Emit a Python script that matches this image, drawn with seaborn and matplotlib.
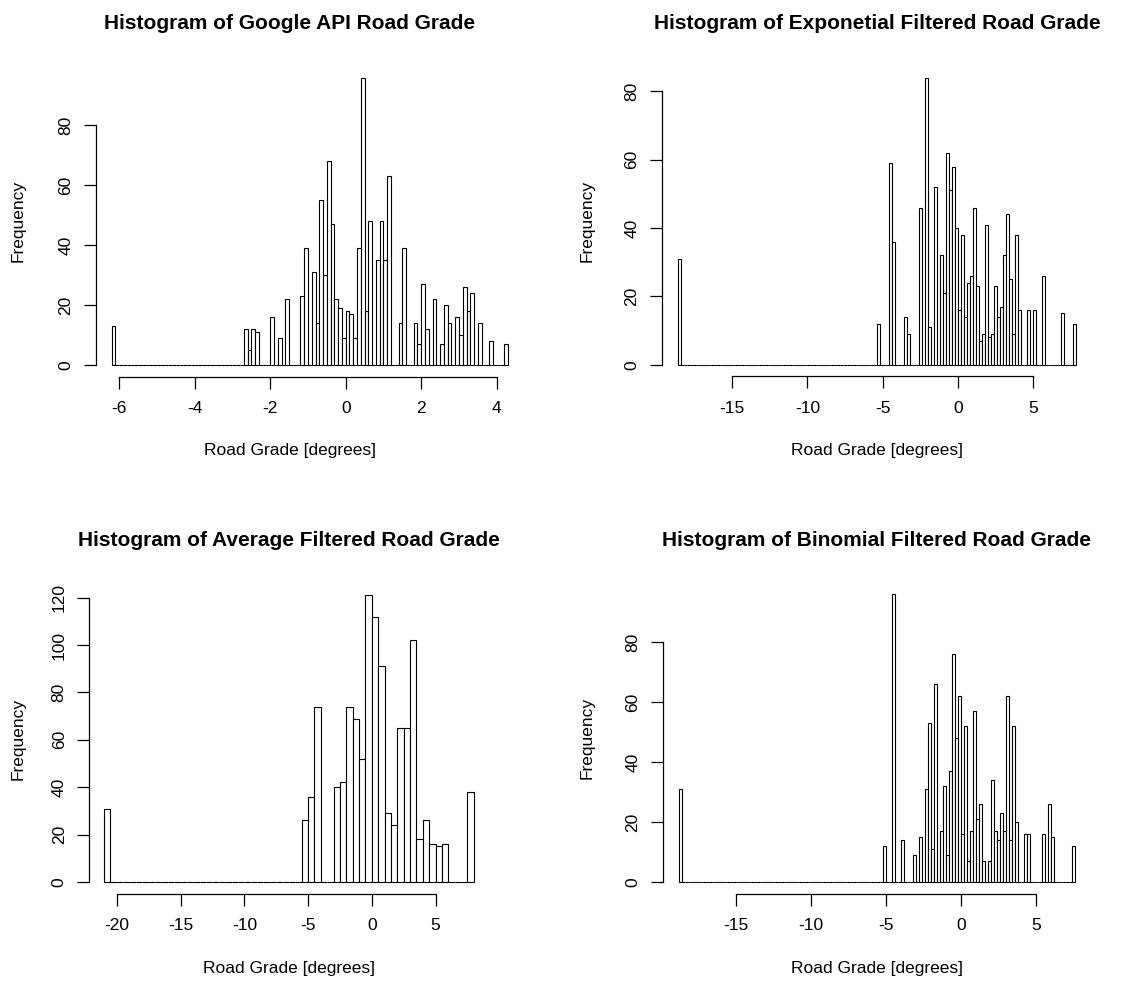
import pandas as pd
import matplotlib
matplotlib.use("Agg")
import matplotlib.pyplot as plt
import seaborn as sns

# bin centres and counts (empty bins left out)
google_grade = [-6.15, -2.65, -2.55, -2.45, -2.35, -1.95, -1.75, -1.55, -1.15, -1.05,
                -0.85, -0.75, -0.65, -0.55, -0.45, -0.35, -0.25, -0.15, -0.05, 0.05,
                0.15, 0.25, 0.35, 0.45, 0.55, 0.65, 0.85, 0.95, 1.05, 1.15,
                1.45, 1.55, 1.85, 1.95, 2.05, 2.15, 2.35, 2.55, 2.65, 2.75,
                2.95, 3.05, 3.15, 3.25, 3.35, 3.55, 3.85, 4.25]
google_count = [13, 12, 5, 12, 11, 16, 9, 22, 23, 39,
                31, 14, 55, 30, 68, 47, 22, 19, 9, 18,
                17, 9, 39, 96, 18, 48, 35, 48, 35, 63,
                14, 39, 14, 7, 27, 12, 22, 7, 20, 14,
                16, 10, 26, 18, 24, 14, 8, 7]
google_breaks = (-6.2, 4.3, 0.1)

expo_grade = [-18.5, -5.3, -4.5, -4.3, -3.5, -3.3, -2.5, -2.1, -1.9, -1.5,
              -1.1, -0.9, -0.7, -0.5, -0.3, -0.1, 0.1, 0.3, 0.5, 0.7,
              0.9, 1.1, 1.3, 1.5, 1.7, 1.9, 2.1, 2.3, 2.5, 2.7,
              2.9, 3.1, 3.3, 3.5, 3.7, 3.9, 4.1, 4.7, 5.1, 5.7,
              6.9, 7.7]
expo_count = [31, 12, 59, 36, 14, 9, 46, 84, 11, 52,
              32, 21, 62, 51, 58, 40, 16, 38, 14, 24,
              26, 46, 23, 7, 9, 41, 8, 9, 23, 14,
              17, 32, 44, 25, 9, 38, 16, 16, 16, 26,
              15, 12]
expo_breaks = (-18.6, 7.8, 0.2)

avg_grade = [-20.75, -5.25, -4.75, -4.25, -2.75, -2.25, -1.75, -1.25, -0.75, -0.25,
             0.25, 0.75, 1.25, 1.75, 2.25, 2.75, 3.25, 3.75, 4.25, 4.75,
             5.25, 5.75, 7.75]
avg_count = [31, 26, 36, 74, 40, 42, 74, 69, 52, 121,
             112, 91, 29, 24, 65, 65, 102, 18, 26, 16,
             15, 16, 38]
avg_breaks = (-21.0, 8.0, 0.5)

binom_grade = [-18.7, -5.1, -4.5, -3.9, -3.1, -2.7, -2.3, -2.1, -1.9, -1.7,
               -1.3, -1.1, -0.9, -0.7, -0.5, -0.3, -0.1, 0.1, 0.3, 0.5,
               0.7, 0.9, 1.1, 1.3, 1.5, 1.9, 2.1, 2.3, 2.5, 2.7,
               2.9, 3.1, 3.3, 3.5, 3.7, 4.3, 4.5, 5.5, 5.9, 6.1,
               7.5]
binom_count = [31, 12, 96, 14, 9, 15, 31, 53, 11, 66,
               17, 32, 9, 37, 76, 48, 62, 16, 52, 7,
               17, 57, 21, 26, 7, 7, 34, 17, 14, 23,
               17, 62, 14, 52, 20, 16, 16, 16, 26, 15,
               12]
binom_breaks = (-18.8, 7.6, 0.2)

titles = ["Histogram of Google API Road Grade",
          "Histogram of Exponetial Filtered Road Grade",
          "Histogram of Average Filtered Road Grade",
          "Histogram of Binomial Filtered Road Grade"]

W, H = 1121, 985

sns.set_style("ticks")
plt.rcParams["font.family"] = ["Liberation Sans", "DejaVu Sans"]
plt.rcParams["text.color"] = "black"
plt.rcParams["axes.labelcolor"] = "black"

fig = plt.figure(figsize=(W / 100, H / 100), dpi=100)


def px_axes(x0, x1, y0, y1):
    return fig.add_axes([x0 / W, 1 - y1 / H, (x1 - x0) / W, (y1 - y0) / H])


def draw_hist(ax, grade, count, breaks, xticks, yticks):
    start, stop, width = breaks
    n = int(round((stop - start) / width))
    edges = [round(start + width * i, 4) for i in range(n + 1)]
    df = pd.DataFrame({"grade": grade, "count": count})
    sns.histplot(data=df, x="grade", weights="count", bins=edges, ax=ax,
                 color="white", edgecolor="black", linewidth=0.8, alpha=1)
    span = edges[-1] - edges[0]
    ax.set_xlim(edges[0] - 0.04 * span, edges[-1] + 0.04 * span)
    top = max(count)
    ax.set_ylim(-0.04 * top, top * 1.04)
    for s in ["top", "right"]:
        ax.spines[s].set_visible(False)
    ax.spines["bottom"].set_bounds(xticks[0], xticks[-1])
    ax.spines["left"].set_bounds(yticks[0], yticks[-1])
    for s in ["bottom", "left"]:
        ax.spines[s].set_linewidth(0.9)
        ax.spines[s].set_color("black")
    ax.set_xticks(xticks, [str(t) for t in xticks])
    ax.set_yticks(yticks, [str(t) for t in yticks], rotation=90, va="center")
    ax.tick_params(axis="both", direction="out", length=8.3, width=0.9,
                   colors="black", labelsize=12.5, bottom=True, left=True)
    ax.tick_params(axis="x", pad=9.3)
    ax.tick_params(axis="y", pad=8)
    ax.set_xlabel("")
    ax.set_ylabel("")


panels = [
    (px_axes(95.8, 523.9, 66.0, 376.5), google_grade, google_count, google_breaks,
     [-6, -4, -2, 0, 2, 4], [0, 20, 40, 60, 80]),
    (px_axes(661.8, 1091.5, 66.2, 376.2), expo_grade, expo_count, expo_breaks,
     [-15, -10, -5, 0, 5], [0, 20, 40, 60, 80]),
    (px_axes(89.3, 488.6, 583.8, 893.5), avg_grade, avg_count, avg_breaks,
     [-20, -15, -10, -5, 0, 5], [0, 20, 40, 60, 80, 100, 120]),
    (px_axes(663.2, 1090.8, 582.5, 893.5), binom_grade, binom_count, binom_breaks,
     [-15, -10, -5, 0, 5], [0, 20, 40, 60, 80]),
]

for ax, grade, count, breaks, xt, yt in panels:
    draw_hist(ax, grade, count, breaks, xt, yt)

# titles and axis labels placed as in the reference
title_pos = [(290, 29), (877, 29), (289, 546), (877, 546)]
xlab_pos = [(290, 451), (877, 451), (289, 968), (877, 968)]
ylab_pos = [(18, 221), (587, 221), (18, 739), (587, 738)]

for t, (tx, ty), (lx, ly), (yx, yy) in zip(titles, title_pos, xlab_pos, ylab_pos):
    fig.text(tx / W, 1 - ty / H, t, ha="center", va="baseline",
             fontsize=15, fontweight="bold")
    fig.text(lx / W, 1 - ly / H, "Road Grade [degrees]", ha="center", va="center",
             fontsize=12.5)
    fig.text(yx / W, 1 - yy / H, "Frequency", ha="center", va="center",
             rotation=90, fontsize=12.5)

fig.savefig("out.png", dpi=100)
